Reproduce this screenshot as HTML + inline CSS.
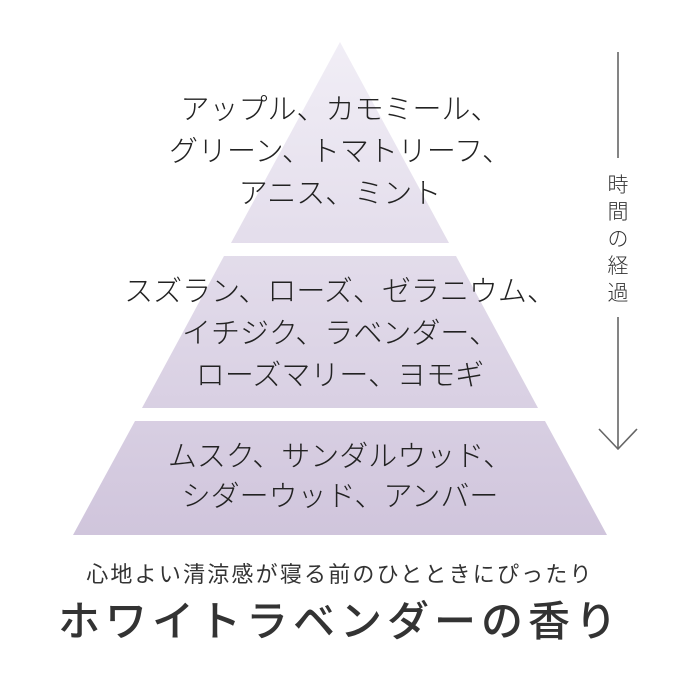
<!DOCTYPE html>
<html><head><meta charset="utf-8"><style>
body{margin:0;background:#fff;}
.w{position:relative;width:680px;height:680px;overflow:hidden;font-family:"Liberation Sans","Noto Sans CJK JP",sans-serif;color:#222;}
.t{position:absolute;left:0;width:680px;text-align:center;font-size:29px;line-height:42px;white-space:nowrap;font-weight:300;}
</style></head><body><div class="w">
<svg width="680" height="680" style="position:absolute;left:0;top:0">
<defs><linearGradient id="g" x1="0" y1="42" x2="0" y2="535" gradientUnits="userSpaceOnUse">
<stop offset="0" stop-color="#f1eef6"/><stop offset="1" stop-color="#d0c5dc"/></linearGradient></defs>
<polygon points="340,42 449,243 231,243" fill="url(#g)"/>
<polygon points="224,256 456,256 538,408 142,408" fill="url(#g)"/>
<polygon points="135,421 545,421 607,535 73,535" fill="url(#g)"/>
<g stroke="#666" stroke-width="1.6" fill="none">
<line x1="618" y1="52" x2="618" y2="158"/>
<line x1="618" y1="317" x2="618" y2="448"/>
<polyline points="599,429 618,449 637,429"/>
</g>
</svg>
<div class="t" style="top:89px">アップル、カモミール、</div>
<div class="t" style="top:131px">グリーン、トマトリーフ、</div>
<div class="t" style="top:173px">アニス、ミント</div>
<div class="t" style="top:271px">スズラン、ローズ、ゼラニウム、</div>
<div class="t" style="top:313px">イチジク、ラベンダー、</div>
<div class="t" style="top:355px">ローズマリー、ヨモギ</div>
<div class="t" style="top:436px">ムスク、サンダルウッド、</div>
<div class="t" style="top:476px">シダーウッド、アンバー</div>
<div style="position:absolute;left:606px;top:172px;width:24px;font-size:21px;line-height:27px;text-align:center;color:#333;font-weight:300">時<br>間<br>の<br>経<br>過</div>
<div class="t" style="top:560px;font-size:22px;line-height:30px;letter-spacing:2.2px;color:#333;font-weight:400">心地よい清涼感が寝る前のひとときにぴったり</div>
<div class="t" style="top:596px;font-size:42px;line-height:52px;font-weight:500;letter-spacing:5px;color:#333">ホワイトラベンダーの香り</div>
</div></body></html>
